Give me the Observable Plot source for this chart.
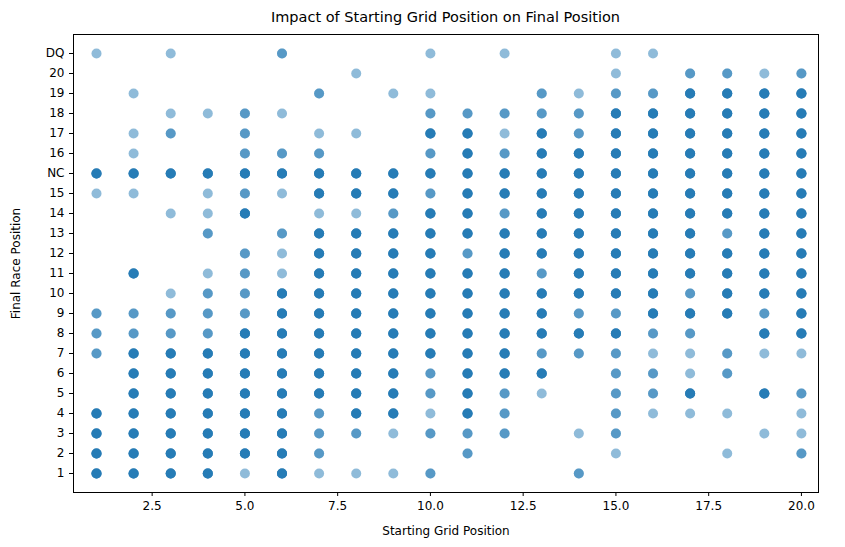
<!DOCTYPE html>
<html>
<head>
<meta charset="utf-8">
<script src="https://cdn.jsdelivr.net/npm/d3@7"></script>
<script src="https://cdn.jsdelivr.net/npm/@observablehq/plot@0.6"></script>
<style>
  body { margin: 0; background: #fff; font-family: "DejaVu Sans", sans-serif; }
  #title { width: 845px; height: 28px; line-height: 34px; font-size: 14.5px; text-align: center; padding-left: 46px; box-sizing: border-box; }
</style>
</head>
<body>
<div id="title">Impact of Starting Grid Position on Final Position</div>
<div id="chart"></div>
<script>
// final positions, top to bottom as on the axis
const positions = ["DQ","20","19","18","17","16","NC","15","14","13","12","11","10","9","8","7","6","5","4","3","2","1"];
const grid = d3.range(1, 21);
// density per cell for grid 1..20: 0 none, 1 single, 2 few, 3 many
const density = [
  "10100200010100110000",
  "00000001000000102212",
  "01000020110021223333",
  "00112100022222333333",
  "01202011033132333333",
  "01002220023233333333",
  "33333333333333333333",
  "11012133323333333333",
  "00113011233233333333",
  "00020233333333333233",
  "00002133332333333333",
  "03012133333323333333",
  "00122333333333332333",
  "22222333333332233323",
  "22223333333333322033",
  "23333333333322211211",
  "03333333323330221200",
  "03333333323210223032",
  "33333323313200211101",
  "33333322122201200011",
  "33333320002000100102",
  "33331311120002000000"
];
const stack = [0, 1, 2, 5];

const points = [];
positions.forEach((p, i) => {
  grid.forEach((g, j) => {
    const n = stack[+density[i][j]];
    for (let k = 0; k < n; k++) points.push({grid: g, pos: p});
  });
});

const chart = Plot.plot({
  width: 845,
  height: 519,
  marginTop: 6,
  marginBottom: 55,
  marginLeft: 73,
  marginRight: 27,
  style: {fontFamily: "DejaVu Sans, sans-serif", fontSize: "12px", color: "#000"},
  x: {domain: [0.38, 20.46], ticks: [2.5, 5, 7.5, 10, 12.5, 15, 17.5, 20], tickFormat: d3.format(".1f"),
      label: "Starting Grid Position", labelAnchor: "center", labelArrow: "none", labelOffset: 42, tickSize: 4},
  y: {type: "point", domain: positions, padding: 0.82, label: "Final Race Position",
      labelAnchor: "center", labelArrow: "none", labelOffset: 62, tickSize: 4},
  marks: [
    Plot.frame({stroke: "#000"}),
    Plot.dot(points, {x: "grid", y: "pos", r: 5, fill: "#1f77b4", fillOpacity: 0.5, stroke: "none"})
  ]
});
document.getElementById("chart").append(chart);
</script>
</body>
</html>
